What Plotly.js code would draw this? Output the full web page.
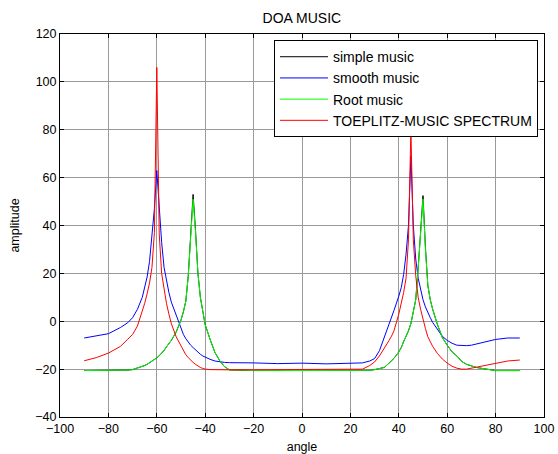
<!DOCTYPE html>
<html>
<head>
<meta charset="utf-8">
<script src="https://cdn.plot.ly/plotly-3.0.1.min.js"></script>
<style>html,body{margin:0;padding:0;background:#fff;}#chart{width:558px;height:454px;}</style>
</head>
<body>
<div id="chart"></div>
<script>
// Data
const angle = [-90, -85, -80, -75, -72, -70, -68, -66, -65, -64, -63, -62, -61, -60, -59, -58, -57, -56, -55, -54,
  -52, -50, -49, -48, -47, -46, -45, -44, -43, -42, -41, -40, -38, -36, -34, -32, -30, -25, -20, -10,
  0, 10, 20, 25, 28, 30, 32, 34, 36, 37, 38, 40, 41, 42, 43, 44, 45, 46, 47, 48,
  49, 50, 51, 52, 53, 54, 56, 58, 60, 62, 64, 66, 68, 70, 72, 75, 78, 80, 85, 90];

const simpleMusic = [-20.6, -20.6, -20.6, -20.6, -20.4, -20.2, -19.6, -19, -18.5, -18, -17.4, -16.8, -16.1, -15.3, -14.4, -13.5, -12.2, -10.7, -9.4, -8,
  -4.5, 0.5, 4, 8.4, 19, 37, 53, 38, 20, 10, 4, -1.5, -7.5, -13, -16.5, -19, -20.3, -20.6, -20.6, -20.6,
  -20.6, -20.6, -20.6, -20.6, -20.5, -20.2, -19.8, -19.3, -17.5, -16.5, -15.5, -12.8, -11, -8.5, -6.5, -4, -1, 3.5, 9, 22,
  37, 52.5, 31, 15, 9, 5, -1.5, -6.8, -10, -12.8, -14.5, -16.8, -18, -18.8, -19.3, -19.8, -20.3, -20.6, -20.6, -20.6];

const smoothMusic = [-7, -6.2, -5.2, -2.6, -0.6, 1.5, 5, 10, 14, 18.5, 25, 36, 47, 63, 46, 33, 22.5, 17, 12, 8,
  2.5, -3.5, -5.5, -7.3, -8.8, -10, -11, -12, -13, -13.8, -14.5, -15, -15.9, -16.6, -17, -17.2, -17.3, -17.5, -17.4, -17.7,
  -17.5, -17.8, -17.7, -17.4, -16.6, -15.6, -12.3, -6.8, -1.5, 1.5, 4.5, 10.5, 14, 19.5, 28, 40, 69, 40, 26, 18,
  13, 9, 6, 3.5, 1.5, -0.5, -3.5, -6.3, -8, -9.2, -10, -10.2, -10.2, -10, -9.5, -8.7, -8, -7.6, -7, -7];

const rootMusic = [-20.6, -20.6, -20.6, -20.6, -20.4, -20.2, -19.6, -19, -18.5, -18, -17.4, -16.8, -16.1, -15.3, -14.4, -13.5, -12.2, -10.7, -9.4, -8,
  -4.5, 0.5, 4, 8.4, 19, 36, 51, 37, 20, 10, 4, -1.5, -7.5, -13, -16.5, -19, -20.3, -20.6, -20.6, -20.6,
  -20.6, -20.6, -20.6, -20.6, -20.5, -20.2, -19.8, -19.3, -17.5, -16.5, -15.5, -12.8, -11, -8.5, -6.5, -4, -1, 3.5, 9, 22,
  36.5, 51, 30, 15, 9, 5, -1.5, -6.8, -10, -12.8, -14.5, -16.8, -18, -18.8, -19.3, -19.8, -20.3, -20.6, -20.6, -20.6];

const toeplitzMusic = [-16.5, -15.2, -13.3, -10.5, -7.5, -5.5, -2, 4, 7.5, 11.5, 16, 22.5, 37, 106, 36.5, 20, 13, 7.5, 3, -1,
  -6.5, -10.5, -12.3, -14, -15.2, -16.3, -17.2, -18, -18.7, -19.3, -19.7, -20, -20.2, -20.3, -20.3, -20.3, -20.3, -20.3, -20.3, -20.3,
  -20.3, -20.3, -20.3, -20, -18.5, -17, -14.5, -11.5, -8, -6.2, -4, 3, 7, 12, 18, 34, 80, 34, 19, 10,
  5, 0.5, -3, -6.5, -8.5, -10.5, -13.5, -15.8, -17.5, -18.8, -19.6, -20, -20, -19.6, -19, -18.5, -17.8, -17.4, -16.6, -16.2];

const seriesNames = ['simple music', 'smooth music', 'Root music', 'TOEPLITZ-MUSIC SPECTRUM'];
const seriesColors = ['#000000', '#0000ff', '#00ff00', '#ff0000'];
const seriesValues = [simpleMusic, smoothMusic, rootMusic, toeplitzMusic];

const traces = seriesValues.map((vals, i) => ({
  x: angle, y: vals, type: 'scatter', mode: 'lines', name: seriesNames[i],
  line: {color: seriesColors[i], width: 1}
}));

const font = 'Arial, "Liberation Sans", sans-serif';
const axisCommon = {
  showline: true, linecolor: '#000', linewidth: 1, mirror: 'ticks',
  ticks: 'inside', ticklen: 4, tickcolor: '#000', tickwidth: 1,
  showgrid: true, gridcolor: '#9a9a9a', gridwidth: 1, zeroline: false,
  tickfont: {family: font, size: 12.5, color: '#000'}
};

const layout = {
  width: 558, height: 454,
  margin: {l: 60, r: 14, t: 34, b: 37},
  paper_bgcolor: '#fff', plot_bgcolor: '#fff',
  font: {family: font, color: '#000'},
  title: {text: 'DOA MUSIC', font: {family: font, size: 14, color: '#000'},
          x: 0.541, xanchor: 'center', y: 0.96, yanchor: 'middle', yref: 'container'},
  xaxis: Object.assign({}, axisCommon, {range: [-100, 100], tick0: 0, dtick: 20,
    title: {text: 'angle', font: {family: font, size: 12.5, color: '#000'}, standoff: 7}}),
  yaxis: Object.assign({}, axisCommon, {range: [-40, 120], tick0: 0, dtick: 20,
    title: {text: 'amplitude', font: {family: font, size: 12.5, color: '#000'}, standoff: 12}}),
  showlegend: true,
  legend: {x: 0.9876, xanchor: 'right', y: 0.984, yanchor: 'top',
    bgcolor: '#fff', bordercolor: '#000', borderwidth: 1, itemwidth: 48,
    font: {family: font, size: 14, color: '#000'}, traceorder: 'normal'}
};

Plotly.newPlot('chart', traces, layout, {displayModeBar: false, staticPlot: true});
</script>
</body>
</html>
